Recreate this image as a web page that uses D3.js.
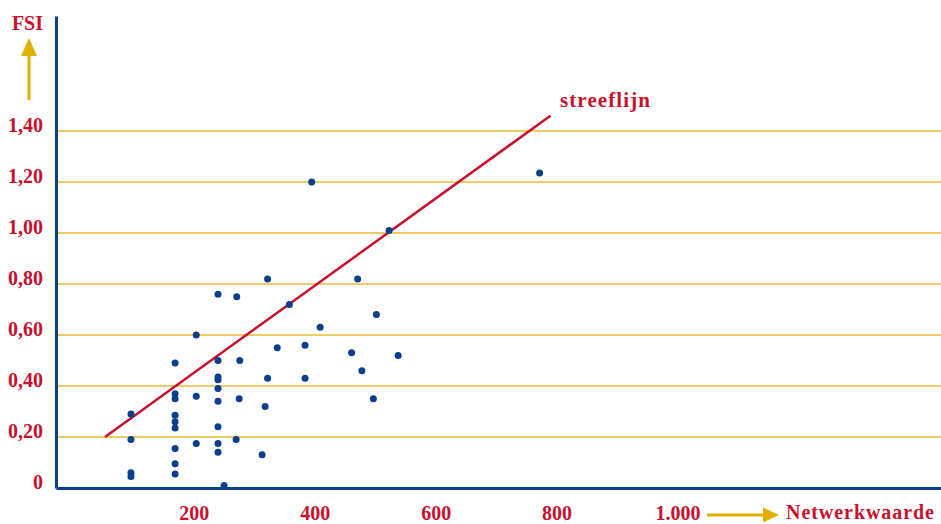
<!DOCTYPE html>
<html>
<head>
<meta charset="utf-8">
<script src="https://cdn.jsdelivr.net/npm/d3@7"></script>
<style>
    body { margin: 0; background: #fff; }
    text { font-family: "Liberation Serif", serif; font-weight: bold; fill: #c8102e; }
    .grid { stroke: #e6bd2e; stroke-width: 1.5; }
    .axis path { stroke: #0b3f8c; stroke-width: 3; }
    .streef { stroke: #c8102e; stroke-width: 2.5; fill: none; }
    .dot { fill: #0b3f8c; }
</style>
</head>
<body>
<div id="chart"></div>
<script>
// netwerkwaarde (x) en FSI (y) per locatie
var netwerk = [96, 96, 96, 96, 169, 169, 169, 169, 169, 169, 169, 169, 169,
               204, 204, 204, 240, 240, 240, 240, 240, 240, 240, 240, 240,
               250, 270, 271, 276, 275, 313, 318, 322, 322, 338, 358, 384, 384,
               395, 409, 461, 471, 478, 497, 502, 523, 538, 772];
var fsi = [0.29, 0.19, 0.06, 0.045, 0.49, 0.37, 0.35, 0.285, 0.26, 0.235, 0.155, 0.095, 0.055,
           0.60, 0.36, 0.175, 0.76, 0.50, 0.435, 0.425, 0.39, 0.34, 0.24, 0.175, 0.14,
           0.01, 0.19, 0.75, 0.50, 0.35, 0.13, 0.32, 0.82, 0.43, 0.55, 0.72, 0.56, 0.43,
           1.20, 0.63, 0.53, 0.82, 0.46, 0.35, 0.68, 1.01, 0.52, 1.235];
var streefX = [53, 790];
var streefY = [0.2, 1.46];
var xTicks = [200, 400, 600, 800, 1000];
var yTicks = [0, 0.2, 0.4, 0.6, 0.8, 1.0, 1.2, 1.4];

function init() {
    var w = 941;
    var h = 524;

    var nl = d3.formatLocale({decimal: ",", thousands: ".", grouping: [3], currency: ["", ""]});

    var xScale = d3.scaleLinear()
            .domain([-28, 1436])
            .range([56, 941]);

    var yScale = d3.scaleLinear()
            .domain([0, 1.851])
            .range([488, 16]);

    var svg = d3.select("#chart")
                .append("svg")
                .attr("width", w)
                .attr("height", h);

    //golden gridlines
    svg.selectAll(".grid")
        .data(yTicks.filter(function(d) { return d > 0; }))
        .enter()
        .append("line")
        .attr("class", "grid")
        .attr("x1", 56)
        .attr("x2", w)
        .attr("y1", function(d) { return yScale(d); })
        .attr("y2", function(d) { return yScale(d); });

    var xAxis = d3.axisBottom()
                  .scale(xScale)
                  .tickValues(xTicks)
                  .tickSize(0)
                  .tickPadding(24)
                  .tickFormat(nl.format(",.0f"));

    var yAxis = d3.axisLeft()
                  .scale(yScale)
                  .tickValues(yTicks)
                  .tickSize(0)
                  .tickPadding(13)
                  .tickFormat(function(d) { return d === 0 ? "0" : nl.format(".2f")(d); });

    var gx = svg.append("g")
        .attr("class", "axis")
        .attr("transform", "translate(0, " + yScale(0) + ")")
        .call(xAxis);

    var gy = svg.append("g")
        .attr("class", "axis")
        .attr("transform", "translate(56, 0)")
        .call(yAxis);

    svg.selectAll(".axis text")
        .attr("font-family", null)
        .attr("font-size", null)
        .style("font-size", "20px");
    gy.selectAll("text").attr("dy", "0");
    gx.selectAll("text").attr("dy", "0").attr("y", 32);

    //streeflijn
    var line = d3.line()
            .x(function(d) { return xScale(d[0]); })
            .y(function(d) { return yScale(d[1]); });

    svg.append("path")
        .datum(d3.zip(streefX, streefY))
        .attr("class", "streef")
        .attr("d", line);

    svg.append("text")
        .attr("x", 560)
        .attr("y", 107)
        .attr("textLength", 90)
        .style("font-size", "21px")
        .text("streeflijn");

    //points
    svg.selectAll(".dot")
        .data(d3.zip(netwerk, fsi))
        .enter()
        .append("circle")
        .attr("class", "dot")
        .attr("cx", function(d) { return xScale(d[0]); })
        .attr("cy", function(d) { return yScale(d[1]); })
        .attr("r", 3.5);

    //axis titles with arrows
    svg.append("text")
        .attr("x", 43)
        .attr("y", 30)
        .attr("text-anchor", "end")
        .style("font-size", "20px")
        .text("FSI");

    svg.append("line")
        .attr("x1", 29).attr("x2", 29)
        .attr("y1", 100).attr("y2", 55)
        .attr("stroke", "#e0b000")
        .attr("stroke-width", 3);
    svg.append("path")
        .attr("d", "M21,56 L37,56 L29,38 Z")
        .attr("fill", "#e0b000");

    svg.append("line")
        .attr("x1", 707).attr("x2", 765)
        .attr("y1", 515).attr("y2", 515)
        .attr("stroke", "#e0b000")
        .attr("stroke-width", 3);
    svg.append("path")
        .attr("d", "M763,507.5 L763,522.5 L779,515 Z")
        .attr("fill", "#e0b000");

    svg.append("text")
        .attr("x", 786)
        .attr("y", 519)
        .attr("textLength", 148)
        .style("font-size", "20px")
        .text("Netwerkwaarde");
}
window.onload = init;
</script>
</body>
</html>
